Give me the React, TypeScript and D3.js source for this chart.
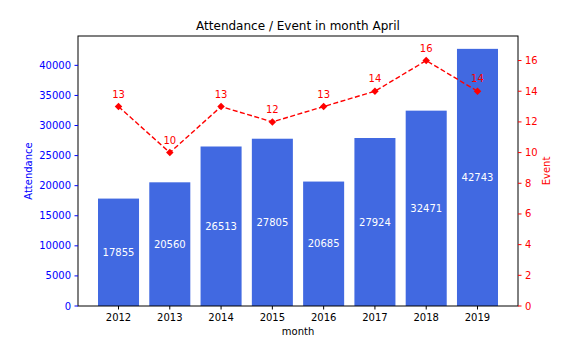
import { useEffect, useRef } from 'react';
import * as d3 from 'd3';

const YEARS = ['2012', '2013', '2014', '2015', '2016', '2017', '2018', '2019'];
const ATTENDANCE = [17855, 20560, 26513, 27805, 20685, 27924, 32471, 42743];
const EVENTS = [13, 10, 13, 12, 13, 14, 16, 14];
const LEFT_TICKS = [0, 5000, 10000, 15000, 20000, 25000, 30000, 35000, 40000];
const RIGHT_TICKS = [0, 2, 4, 6, 8, 10, 12, 14, 16];

const WIDTH = 576;
const HEIGHT = 360;
const PLOT = { left: 78, right: 518, top: 36, bottom: 306 } as const;
const FONT = 'DejaVu Sans, sans-serif';
const BAR_COLOR = '#4169e1';
const LEFT_COLOR = '#0000ff';
const RIGHT_COLOR = '#ff0000';

export default function App() {
  const svgRef = useRef<SVGSVGElement | null>(null);

  useEffect(() => {
    const svgEl = svgRef.current;
    if (!svgEl) return;
    const svg = d3.select(svgEl);
    svg.selectAll('*').remove();

    const n = YEARS.length;
    // matplotlib-like x limits: bars of width 0.8 plus 5% margins
    const span = n - 1 + 0.8;
    const xScale = d3
      .scaleLinear()
      .domain([-0.4 - span * 0.05, n - 1 + 0.4 + span * 0.05])
      .range([PLOT.left, PLOT.right]);
    const yLeft = d3
      .scaleLinear()
      .domain([0, (d3.max(ATTENDANCE) ?? 1) * 1.05])
      .range([PLOT.bottom, PLOT.top]);
    const yRight = d3
      .scaleLinear()
      .domain([0, (d3.max(EVENTS) ?? 1) * 1.1])
      .range([PLOT.bottom, PLOT.top]);
    const barW = xScale(0.8) - xScale(0);

    // ---- bars ----
    svg
      .append('g')
      .selectAll('rect')
      .data(ATTENDANCE)
      .join('rect')
      .attr('x', (_, i) => xScale(i) - barW / 2)
      .attr('y', (d) => yLeft(d))
      .attr('width', barW)
      .attr('height', (d) => PLOT.bottom - yLeft(d))
      .attr('fill', BAR_COLOR);

    svg
      .append('g')
      .selectAll('text')
      .data(ATTENDANCE)
      .join('text')
      .attr('x', (_, i) => xScale(i))
      .attr('y', (d) => yLeft(d / 2))
      .attr('dy', '0.35em')
      .attr('text-anchor', 'middle')
      .attr('font-family', FONT)
      .attr('font-size', 10)
      .attr('fill', '#ffffff')
      .text((d) => String(d));

    // ---- frame ----
    svg
      .append('rect')
      .attr('x', PLOT.left)
      .attr('y', PLOT.top)
      .attr('width', PLOT.right - PLOT.left)
      .attr('height', PLOT.bottom - PLOT.top)
      .attr('fill', 'none')
      .attr('stroke', '#000')
      .attr('stroke-width', 1);

    // ---- event line ----
    const line = d3
      .line<number>()
      .x((_, i) => xScale(i))
      .y((d) => yRight(d));
    svg
      .append('path')
      .datum(EVENTS)
      .attr('fill', 'none')
      .attr('stroke', RIGHT_COLOR)
      .attr('stroke-width', 1.4)
      .attr('stroke-dasharray', '5 2.5')
      .attr('d', line);

    svg
      .append('g')
      .selectAll('path')
      .data(EVENTS)
      .join('path')
      .attr('transform', (d, i) => `translate(${xScale(i)}, ${yRight(d)}) rotate(45)`)
      .attr('d', d3.symbol(d3.symbolSquare, 28)())
      .attr('fill', RIGHT_COLOR);

    svg
      .append('g')
      .selectAll('text')
      .data(EVENTS)
      .join('text')
      .attr('x', (_, i) => xScale(i))
      .attr('y', (d) => yRight(d) - 9)
      .attr('text-anchor', 'middle')
      .attr('font-family', FONT)
      .attr('font-size', 10)
      .attr('fill', RIGHT_COLOR)
      .text((d) => String(d));

    // ---- x axis ----
    const xAxis = svg.append('g');
    YEARS.forEach((year, i) => {
      const x = xScale(i);
      xAxis
        .append('line')
        .attr('x1', x)
        .attr('x2', x)
        .attr('y1', PLOT.bottom)
        .attr('y2', PLOT.bottom + 3.5)
        .attr('stroke', '#000');
      xAxis
        .append('text')
        .attr('x', x)
        .attr('y', PLOT.bottom + 15)
        .attr('text-anchor', 'middle')
        .attr('font-family', FONT)
        .attr('font-size', 10)
        .attr('fill', '#000')
        .text(year);
    });
    svg
      .append('text')
      .attr('x', (PLOT.left + PLOT.right) / 2)
      .attr('y', PLOT.bottom + 29)
      .attr('text-anchor', 'middle')
      .attr('font-family', FONT)
      .attr('font-size', 10)
      .attr('fill', '#000')
      .text('month');

    // ---- left axis ----
    const leftAxis = svg.append('g');
    LEFT_TICKS.forEach((t) => {
      const y = yLeft(t);
      leftAxis
        .append('line')
        .attr('x1', PLOT.left - 3.5)
        .attr('x2', PLOT.left)
        .attr('y1', y)
        .attr('y2', y)
        .attr('stroke', LEFT_COLOR);
      leftAxis
        .append('text')
        .attr('x', PLOT.left - 7)
        .attr('y', y)
        .attr('dy', '0.35em')
        .attr('text-anchor', 'end')
        .attr('font-family', FONT)
        .attr('font-size', 10)
        .attr('fill', LEFT_COLOR)
        .text(String(t));
    });
    svg
      .append('text')
      .attr('transform', `translate(32, ${(PLOT.top + PLOT.bottom) / 2}) rotate(-90)`)
      .attr('text-anchor', 'middle')
      .attr('font-family', FONT)
      .attr('font-size', 10)
      .attr('fill', LEFT_COLOR)
      .text('Attendance');

    // ---- right axis ----
    const rightAxis = svg.append('g');
    RIGHT_TICKS.forEach((t) => {
      const y = yRight(t);
      rightAxis
        .append('line')
        .attr('x1', PLOT.right)
        .attr('x2', PLOT.right + 3.5)
        .attr('y1', y)
        .attr('y2', y)
        .attr('stroke', RIGHT_COLOR);
      rightAxis
        .append('text')
        .attr('x', PLOT.right + 7)
        .attr('y', y)
        .attr('dy', '0.35em')
        .attr('text-anchor', 'start')
        .attr('font-family', FONT)
        .attr('font-size', 10)
        .attr('fill', RIGHT_COLOR)
        .text(String(t));
    });
    svg
      .append('text')
      .attr('transform', `translate(550, ${(PLOT.top + PLOT.bottom) / 2}) rotate(-90)`)
      .attr('text-anchor', 'middle')
      .attr('font-family', FONT)
      .attr('font-size', 10)
      .attr('fill', RIGHT_COLOR)
      .text('Event');

    // ---- title ----
    svg
      .append('text')
      .attr('x', (PLOT.left + PLOT.right) / 2)
      .attr('y', PLOT.top - 6)
      .attr('text-anchor', 'middle')
      .attr('font-family', FONT)
      .attr('font-size', 12)
      .attr('fill', '#000')
      .text('Attendance / Event in month April');
  }, []);

  return (
    <svg
      ref={svgRef}
      width={WIDTH}
      height={HEIGHT}
      viewBox={`0 0 ${WIDTH} ${HEIGHT}`}
      style={{ position: 'absolute', left: 0, top: 0, background: '#fff' }}
    />
  );
}
